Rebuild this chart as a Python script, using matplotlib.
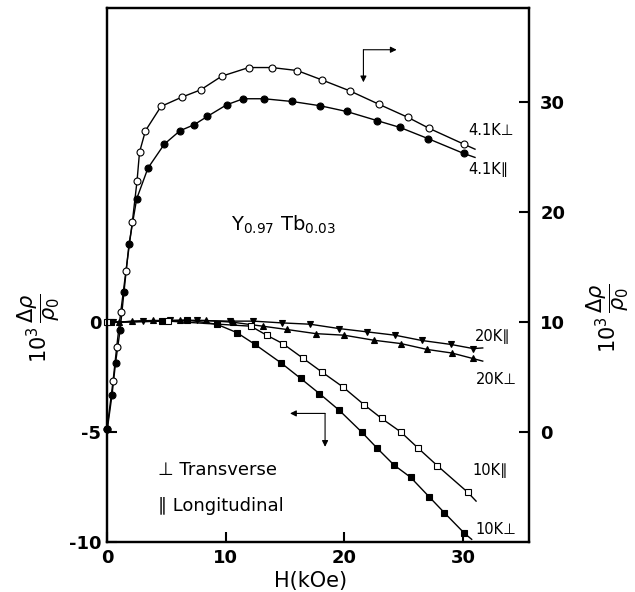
import matplotlib
matplotlib.use("Agg")
import matplotlib.pyplot as plt
import numpy as np

# 4.1 K curves (right axis)
h_41_perp = [0.0, 0.51, 0.82, 1.16, 1.6, 2.13, 2.53, 2.74, 3.24, 4.55, 6.29, 7.89, 9.66,
             11.94, 13.88, 16.01, 18.09, 20.45, 22.94, 25.36, 27.15, 30.05]
r_41_perp = [0.27, 4.64, 7.77, 10.95, 14.7, 19.09, 22.85, 25.48, 27.43, 29.64, 30.48, 31.15,
             32.39, 33.18, 33.18, 32.91, 32.06, 31.06, 29.82, 28.64, 27.64, 26.21]
end_41_perp = (31.0, 25.75)

h_41_par = [0.03, 0.42, 0.72, 1.1, 1.43, 1.85, 2.5, 3.45, 4.83, 6.15, 7.33, 8.45, 10.08,
            11.48, 13.23, 15.59, 17.97, 20.19, 22.72, 24.68, 27.07, 30.05]
r_41_par = [0.3, 3.36, 6.3, 9.27, 12.75, 17.09, 21.23, 24.03, 26.21, 27.43, 27.97, 28.73,
            29.79, 30.34, 30.34, 30.09, 29.7, 29.18, 28.36, 27.73, 26.7, 25.36]
end_41_par = (31.0, 25.0)

# 20 K curves (left axis)
h_20_par = [0.5, 3.06, 5.31, 7.56, 10.36, 12.33, 14.72, 17.1, 19.57, 21.93, 24.26, 26.51,
            28.96, 30.86]
r_20_par = [0.0, 0.05, 0.08, 0.08, 0.05, 0.05, -0.03, -0.09, -0.29, -0.44, -0.59, -0.83,
            -1.01, -1.2]
end_20_par = (31.65, -1.17)

h_20_perp = [1.0, 2.08, 3.9, 6.15, 8.34, 10.6, 13.12, 15.14, 17.61, 19.97, 22.49, 24.74,
             26.98, 29.04, 30.81]
r_20_perp = [0.0, 0.05, 0.08, 0.08, 0.08, 0.0, -0.18, -0.33, -0.52, -0.59, -0.82, -0.97,
             -1.24, -1.4, -1.65]
end_20_perp = (31.65, -1.77)

# 10 K curves (left axis)
h_10_perp = [0.3, 4.61, 6.77, 9.24, 10.93, 12.47, 14.66, 16.32, 17.9, 19.57, 21.46, 22.77,
             24.18, 25.58, 27.13, 28.42, 30.1]
r_10_perp = [0.0, 0.05, 0.1, -0.09, -0.47, -1.01, -1.85, -2.56, -3.25, -4.01, -5.0, -5.74,
             -6.5, -7.06, -7.94, -8.67, -9.6]
end_10_perp = (30.72, -9.88)

h_10_par = [0.0, 5.16, 12.11, 13.45, 14.8, 16.54, 18.09, 19.86, 21.65, 23.14, 24.74, 26.23,
            27.83, 30.39]
r_10_par = [0.0, 0.05, -0.18, -0.59, -0.97, -1.65, -2.26, -2.94, -3.75, -4.38, -4.99, -5.74,
            -6.53, -7.74]
end_10_par = (31.09, -8.14)

x_ticks = [0, 10, 20, 30]
left_ticks = [-10, -5, 0]
right_ticks = [0, 10, 20, 30]

curve_labels = ["4.1K\u22a5", "4.1K\u2225", "20K\u2225", "20K\u22a5", "10K\u2225", "10K\u22a5"]


def curve(ax, h, r, end, marker, filled, ms):
    ax.plot(list(h) + [end[0]], list(r) + [end[1]], '-', color='black', lw=1.0,
            clip_on=False)
    ax.plot(h, r, linestyle='none', marker=marker, ms=ms, mew=0.8,
            mfc='black' if filled else 'white', mec='black', clip_on=False, zorder=3)


fig = plt.figure(figsize=(6.35, 5.92), dpi=100)
ax = fig.add_axes([0.1685, 0.0845, 0.6646, 0.902])
ax2 = ax.twinx()

ax.set_xlim(0, 35.55)
ax.set_ylim(-10, 14.3)
ax2.set_ylim(-10, 38.6)

curve(ax2, h_41_perp, r_41_perp, end_41_perp, 'o', False, 5)
curve(ax2, h_41_par, r_41_par, end_41_par, 'o', True, 5)
curve(ax, h_20_par, r_20_par, end_20_par, 'v', True, 4.5)
curve(ax, h_20_perp, r_20_perp, end_20_perp, '^', True, 4.5)
curve(ax, h_10_perp, r_10_perp, end_10_perp, 's', True, 4)
curve(ax, h_10_par, r_10_par, end_10_par, 's', False, 4)

for a in (ax, ax2):
    for s in a.spines.values():
        s.set_linewidth(1.6)

ax.set_xticks(x_ticks)
ax.set_xticklabels([str(t) for t in x_ticks], fontsize=13, fontweight='bold')
ax.set_yticks(left_ticks)
ax.set_yticklabels([str(t) for t in left_ticks], fontsize=13, fontweight='bold')
ax.tick_params(axis='both', direction='in', length=7, width=1.5, top=False, right=False)
ax.tick_params(axis='x', pad=5)
ax.tick_params(axis='y', pad=4)
ax2.set_yticks(right_ticks)
ax2.set_yticklabels([str(t) for t in right_ticks], fontsize=13, fontweight='bold')
ax2.tick_params(axis='y', direction='in', length=7, width=1.5, pad=8)

# text
ax.text(14.83, 4.41, r"Y$_{0.97}$ Tb$_{0.03}$", fontsize=14, ha='center', va='center')
ax.text(4.3, -6.73, "\u22a5 Transverse", fontsize=13, ha='left', va='center')
ax.text(4.3, -8.36, "\u2225 Longitudinal", fontsize=13, ha='left', va='center')

label_pos = [(30.41, 8.73), (30.41, 6.95), (31.0, -0.64), (31.09, -2.59),
             (30.75, -6.77), (31.0, -9.45)]
for lab, (lx, ly) in zip(curve_labels, label_pos):
    ax.text(lx, ly, lab, fontsize=10.5, ha='left', va='center')

# arrows pointing to the axis each set belongs to
arr = dict(arrowstyle='-|>', lw=0.8, color='black', mutation_scale=9, shrinkA=0, shrinkB=0)
ax.annotate("", xy=(24.4, 12.4), xytext=(21.6, 12.4), arrowprops=arr)
ax.annotate("", xy=(21.6, 10.92), xytext=(21.6, 12.4), arrowprops=arr)
ax.annotate("", xy=(15.42, -4.15), xytext=(18.37, -4.15), arrowprops=arr)
ax.annotate("", xy=(18.37, -5.67), xytext=(18.37, -4.15), arrowprops=arr)

ylab = r"$10^3\,\dfrac{\Delta\rho}{\rho_0}$"
fig.text(39 / 635, 1 - 328 / 592, ylab, rotation=90, fontsize=15, ha='center', va='center')
fig.text(608 / 635, 1 - 318 / 592, ylab, rotation=90, fontsize=15, ha='center', va='center')
fig.text(311 / 635, 1 - 581 / 592, "H(kOe)", fontsize=15, ha='center', va='center')

fig.savefig("out.png", dpi=100)
